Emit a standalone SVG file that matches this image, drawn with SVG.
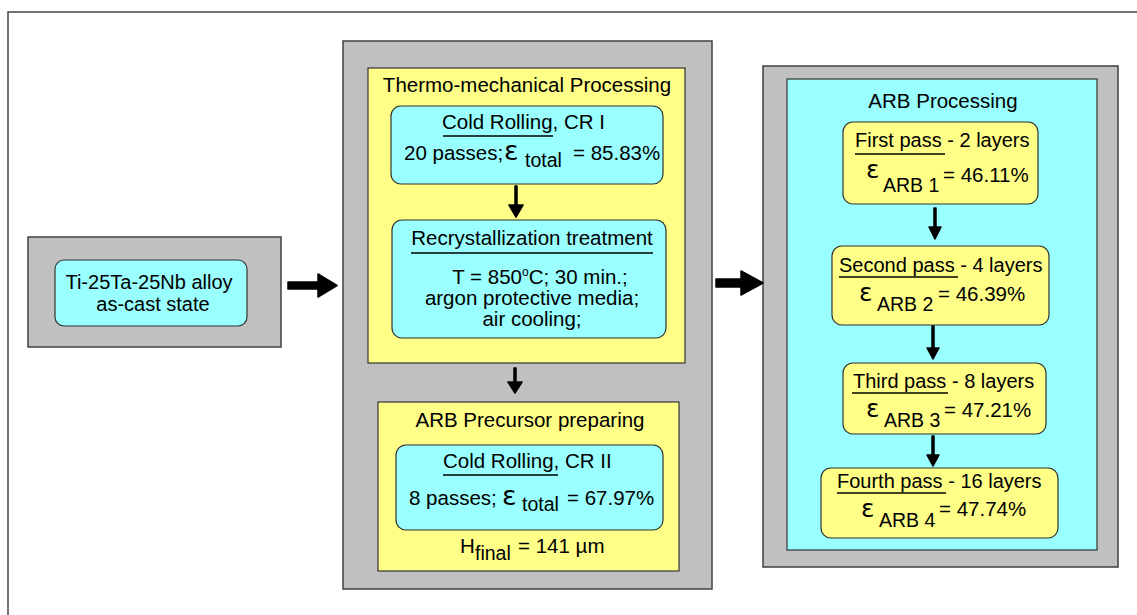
<svg xmlns="http://www.w3.org/2000/svg" width="1137" height="615" viewBox="0 0 1137 615">
<style>
.t{font-family:"Liberation Sans",Arial,sans-serif;font-size:20.5px;fill:#000}
.m{text-anchor:middle}
.s{font-size:20px}
.sub{font-size:19.5px}
.eps{font-family:"DejaVu Sans",sans-serif;font-size:27px;fill:#000}
.eps2{font-family:"DejaVu Sans",sans-serif;font-size:25px;fill:#000}
.gray{fill:#C0C0C0;stroke:#404040;stroke-width:1.5}
.yel{fill:#FFFF88;stroke:#333;stroke-width:1.2}
.cyan{fill:#99FFFF;stroke:#333;stroke-width:1.2}
.ul{stroke:#000;stroke-width:1.4}
.arr{fill:#000;stroke:#000;stroke-width:1.5;stroke-linejoin:round}
</style>
<rect width="1137" height="615" fill="#fff"/>
<rect x="8" y="12" width="1140" height="620" fill="#fff" stroke="#444" stroke-width="1.5"/>

<g id="alloy">
<rect class="gray" x="28" y="237" width="253" height="110"/>
<rect class="cyan" x="55" y="260" width="192" height="66" rx="9"/>
<text class="t m s" x="149" y="289">Ti-25Ta-25Nb alloy</text>
<text class="t m s" x="153" y="311">as-cast state</text>
</g>

<g id="thermo-container">
<rect class="gray" x="343" y="41" width="369" height="548"/>
</g>

<g id="thermo">
<rect class="yel" x="368" y="68" width="317" height="295"/>
<text class="t m" x="527" y="92">Thermo-mechanical Processing</text>
</g>

<g id="cr1">
<rect class="cyan" x="391" y="106" width="272" height="78" rx="10"/>
<text class="t" x="442" y="129">Cold Rolling, CR I</text>
<line class="ul" x1="443" y1="136" x2="553" y2="136"/>
<text class="t" x="404" y="160">20 passes;</text>
<text class="eps" x="504" y="160">ε</text>
<text class="t sub" x="525" y="167">total</text>
<text class="t" x="573" y="160">= 85.83%</text>
</g>

<g id="recryst">
<rect class="cyan" x="392" y="220" width="274" height="118" rx="10"/>
<text class="t m" x="532" y="245">Recrystallization treatment</text>
<line class="ul" x1="411" y1="253" x2="653" y2="253"/>
<text class="t m" x="540" y="284">T = 850<tspan dy="-8" style="font-size:12px">o</tspan><tspan dy="8">C; 30 min.;</tspan></text>
<text class="t m" x="532" y="305">argon protective media;</text>
<text class="t m" x="532" y="326">air cooling;</text>
</g>

<g id="precursor">
<rect class="yel" x="378" y="402" width="301" height="169"/>
<text class="t m" x="530" y="427">ARB Precursor preparing</text>
</g>

<g id="cr2">
<rect class="cyan" x="396" y="445" width="267" height="85" rx="10"/>
<text class="t" x="443" y="468">Cold Rolling, CR II</text>
<line class="ul" x1="443" y1="475" x2="558" y2="475"/>
<text class="t" x="409" y="505">8 passes;</text>
<text class="eps" x="502" y="505">ε</text>
<text class="t sub" x="522" y="511">total</text>
<text class="t" x="567" y="505">= 67.97%</text>
</g>

<g id="hfinal">
<text class="t" x="460" y="553">H</text>
<text class="t sub" x="475" y="560">final</text>
<text class="t" x="518" y="553">= 141 µm</text>
</g>

<g id="arb-container">
<rect class="gray" x="763" y="66" width="355" height="501"/>
<rect x="787" y="79" width="310" height="471" fill="#99FFFF" stroke="#333" stroke-width="1.2"/>
<text class="t m" x="943" y="108">ARB Processing</text>
</g>

<g id="pass1">
<rect class="yel" x="843" y="122" width="195" height="82" rx="10"/>
<text class="t s" x="855" y="147">First pass - 2 layers</text>
<line class="ul" x1="855" y1="154" x2="945" y2="154"/>
<text class="eps2" x="866" y="178">ε</text>
<text class="t sub" x="883" y="192">ARB 1</text>
<text class="t" x="943" y="182">= 46.11%</text>
</g>

<g id="pass2">
<rect class="yel" x="832" y="246" width="217" height="79" rx="10"/>
<text class="t s" x="839" y="272">Second pass - 4 layers</text>
<line class="ul" x1="839" y1="277" x2="958" y2="277"/>
<text class="eps2" x="859" y="301">ε</text>
<text class="t sub" x="877" y="311">ARB 2</text>
<text class="t" x="938" y="301">= 46.39%</text>
</g>

<g id="pass3">
<rect class="yel" x="843" y="363" width="203" height="71" rx="10"/>
<text class="t s" x="853" y="388">Third pass - 8 layers</text>
<line class="ul" x1="852" y1="393" x2="948" y2="393"/>
<text class="eps2" x="866" y="417">ε</text>
<text class="t sub" x="884" y="427">ARB 3</text>
<text class="t" x="944" y="417">= 47.21%</text>
</g>

<g id="pass4">
<rect class="yel" x="821" y="468" width="237" height="70" rx="10"/>
<text class="t s" x="837" y="488">Fourth pass - 16 layers</text>
<line class="ul" x1="837" y1="493" x2="946" y2="493"/>
<text class="eps2" x="861" y="517">ε</text>
<text class="t sub" x="879" y="527">ARB 4</text>
<text class="t" x="939" y="516">= 47.74%</text>
</g>

<g id="connectors">
<path class="arr" d="M288,282 L318,282 L318,274 L337,285.5 L318,297 L318,289 L288,289 Z"/>
<path class="arr" d="M716,279 L741,279 L741,271 L763,283 L741,295 L741,287 L716,287 Z"/>
<path class="arr" d="M515,186 L517,186 L517,205 L523,205 L516,217 L509,205 L515,205 Z"/>
<path class="arr" d="M514,368 L516,368 L516,382 L522,382 L515,393 L508,382 L514,382 Z"/>
<path class="arr" d="M934,208 L936,208 L936,227 L941,227 L935,239 L929,227 L934,227 Z"/>
<path class="arr" d="M932,326 L934,326 L934,348 L939,348 L933,359 L927,348 L932,348 Z"/>
<path class="arr" d="M932,436 L934,436 L934,455 L939,455 L933,466 L927,455 L932,455 Z"/>
</g>
</svg>
